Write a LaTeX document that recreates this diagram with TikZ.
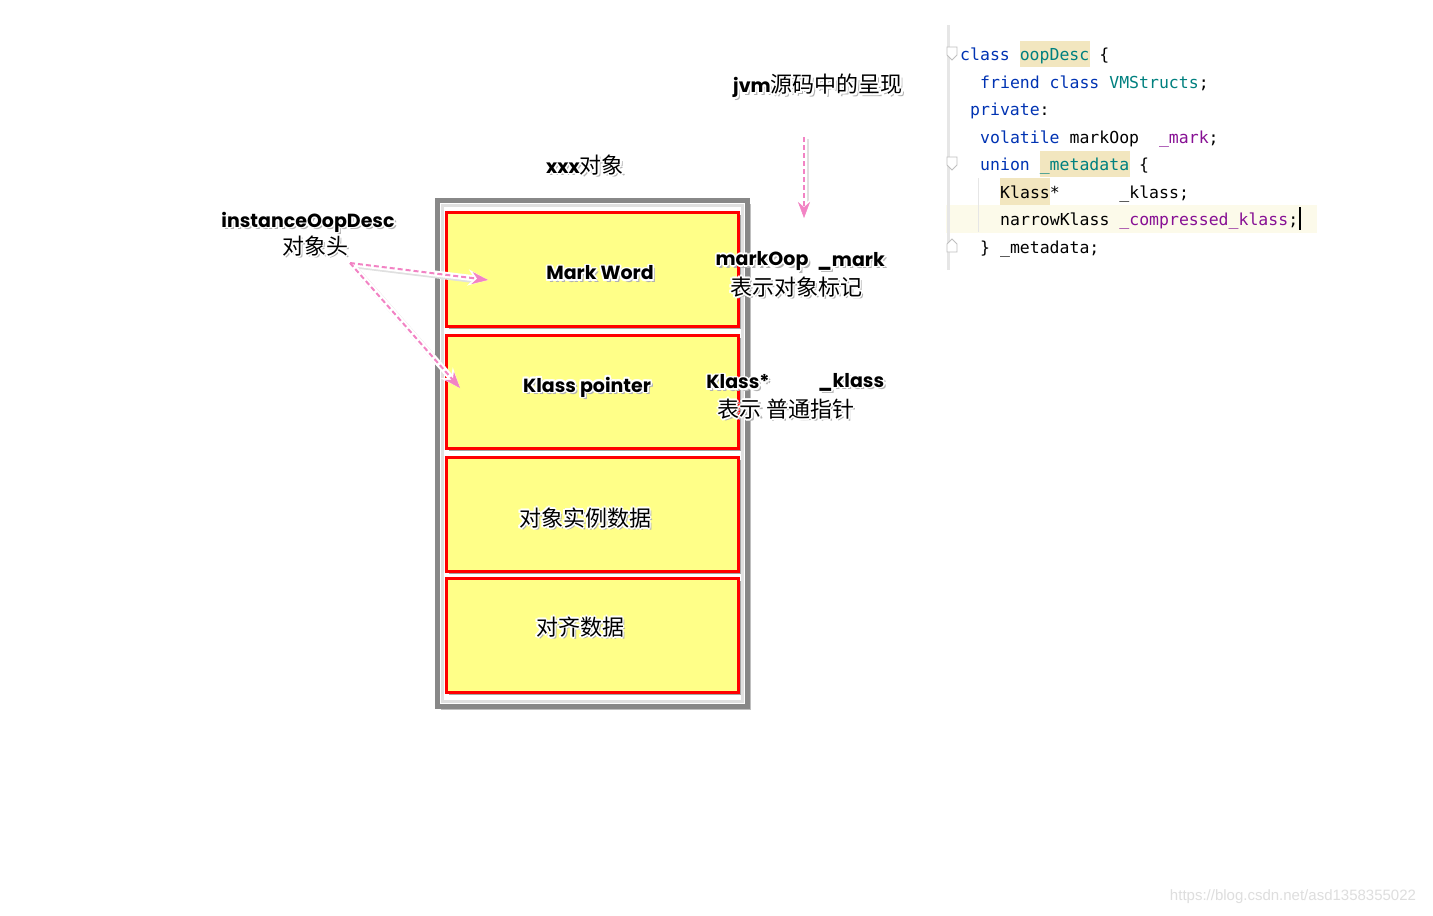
\documentclass[tikz,border=0pt]{standalone}
\usepackage{fontspec}
\usetikzlibrary{arrows.meta,calc,shadows}
\newfontfamily\cjk{Noto Sans CJK SC}
\newfontfamily\hand{Poppins}
\newfontfamily\code{DejaVu Sans Mono}
\newfontfamily\wmfont{Liberation Sans}
\definecolor{boxfill}{HTML}{FFFF88}
\definecolor{outergray}{HTML}{888888}
\definecolor{arrowpink}{HTML}{F283C4}
\definecolor{kwblue}{HTML}{0033B3}
\definecolor{cteal}{HTML}{00807F}
\definecolor{cpurple}{HTML}{871094}
\definecolor{hltan}{HTML}{F2E6BF}
\definecolor{linehl}{HTML}{FCFAEA}
\definecolor{gutter}{HTML}{E6E6E6}
\newcommand\hfnt{\hand\bfseries\fontsize{19}{21}\selectfont}
\newcommand\cfnt{\cjk\fontsize{22}{25}\selectfont}
\newcommand\glab[4]{%
  \node[lab,#1,text=black!30] at ([shift={(2.5,2.5)}]#3) {#4};%
  \foreach \gx/\gy in {-1.8/0,1.8/0,0/-1.8,0/1.8,-1.3/-1.3,1.3/1.3,-1.3/1.3,1.3/-1.3}{%
    \node[lab,#1,text=white] at ([shift={(\gx,\gy)}]#3) {#4};}%
  \node[lab,#1] (#2) at (#3) {#4};}
\begin{document}
\begin{tikzpicture}[x=1pt,y=-1pt,
  lab/.style={inner sep=0pt},
  redbox/.style={draw=red,line width=3pt,fill=boxfill,minimum width=292pt,
    drop shadow={shadow xshift=2.5pt,shadow yshift=-2.5pt,opacity=0.35,fill=black}},
  codeline/.style={anchor=base west,inner sep=0pt,font=\code\fontsize{16.5}{18}\selectfont},
  arrsh/.style={black!12,line width=6pt,shorten >=14pt},
  arrbg/.style={draw=white,line width=6pt,-{Stealth[length=20pt,width=16pt,fill=white]}},
  arrfg/.style={draw=arrowpink,line width=2pt,dash pattern=on 5pt off 3pt,
    -{Stealth[length=16pt,width=12pt,fill=arrowpink,line width=0.5pt]}}]
\useasboundingbox (0,0) rectangle (1433,916);
\fill[white] (0,0) rectangle (1433,916);

% outer frame
\fill[black!25] (441,204) rectangle (751,710);
\draw[line width=5pt,draw=outergray,fill=white] (437,200) rectangle (747,706);
\draw[line width=3pt,black!12] (442,205) rectangle (742,701);

% four parts
\node[redbox,minimum height=114pt] (mw) at (592,269) {};
\node[redbox,minimum height=113pt] (kp) at (592,391.5) {};
\node[redbox,minimum height=114pt] (inst) at (592,514) {};
\node[redbox,minimum height=114pt] (pad) at (592,635) {};

% arrows
\coordinate (hs) at (350,263);
\coordinate (mwtip) at (488,280);
\coordinate (kptip) at (460,388);
\coordinate (ds) at (804,137);
\coordinate (dt) at (804,218);
\draw[arrsh] ($(hs)+(2,2)$) -- ($(mwtip)+(2,2)$);
\draw[arrsh] ($(hs)+(2,2)$) -- ($(kptip)+(2,2)$);
\draw[arrsh] ($(ds)+(2,2)$) -- ($(dt)+(2,2)$);
\draw[arrbg] (hs) -- (mwtip);
\draw[arrbg] (hs) -- (kptip);
\draw[arrbg] (ds) -- (dt);
\draw[arrfg] (hs) -- (mwtip);
\draw[arrfg] (hs) -- (kptip);
\draw[arrfg] (ds) -- (dt);

% labels
\glab{}{title}{585,165}{{\hfnt xxx}{\cfnt 对象}}
\glab{}{iod}{308,222}{\hfnt instanceOopDesc}
\glab{}{hdr}{315,246}{\cfnt 对象头}
\glab{}{mwl}{600,273}{\hfnt Mark Word}
\glab{}{kpl}{587,387}{\hfnt Klass pointer}
\glab{}{instl}{585,518}{\cfnt 对象实例数据}
\glab{}{padl}{580,627}{\cfnt 对齐数据}
\glab{}{moop}{762,261}{\hfnt markOop}
\glab{}{mmark}{851,261}{\hfnt \_mark}
\glab{}{mdesc}{796,287}{\cfnt 表示对象标记}
\glab{}{kstar}{738,382}{\hfnt Klass*}
\glab{}{kklass}{851,382}{\hfnt \_klass}
\glab{}{kdesc}{786,409}{\cfnt 表示 普通指针}
\glab{}{jvm}{818,86}{{\hfnt jvm}{\cfnt 源码中的呈现}}

% code panel
\fill[linehl] (946,205) rectangle (1317,233);
\draw[gutter,line width=3pt] (948,25) -- (948,270);
\draw[gutter,line width=1pt] (978,178) -- (978,232);
\fill[hltan] (1020,41) rectangle (1090,67);
\fill[hltan] (1040,151) rectangle (1130,177);
\fill[hltan] (1000,178) rectangle (1050,205);
\draw[black!25,line width=0.8pt,fill=white] (947,47) -- (957,47) -- (957,55) -- (952,60) -- (947,55) -- cycle;
\draw[black!25,line width=0.8pt,fill=white] (947,157) -- (957,157) -- (957,165) -- (952,170) -- (947,165) -- cycle;
\draw[black!25,line width=0.8pt,fill=white] (947,252) -- (957,252) -- (957,244) -- (952,239) -- (947,244) -- cycle;

\node[codeline] (c1) at (960,60) {\textcolor{kwblue}{class}~\textcolor{cteal}{oopDesc}~\{};
\node[codeline] (c2) at (980,88) {\textcolor{kwblue}{friend~class}~\textcolor{cteal}{VMStructs};};
\node[codeline] (c3) at (970,115) {\textcolor{kwblue}{private}:};
\node[codeline] (c4) at (980,143) {\textcolor{kwblue}{volatile}~markOop~~\textcolor{cpurple}{\_mark};};
\node[codeline] (c5) at (980,170) {\textcolor{kwblue}{union}~\textcolor{cteal}{\_metadata}~\{};
\node[codeline] (c6) at (1000,198) {Klass*~~~~~~\_klass;};
\node[codeline] (c7) at (1000,225) {narrowKlass~\textcolor{cpurple}{\_compressed\_klass};};
\node[codeline] (c8) at (980,253) {\}~\_metadata;};
\fill[black] (1299,207) rectangle (1301,230);

% watermark
\node[inner sep=0pt,text=black!13,font=\wmfont\fontsize{15}{17}\selectfont] (wm) at (1293,897) {https://blog.csdn.net/asd1358355022};
\end{tikzpicture}
\end{document}
